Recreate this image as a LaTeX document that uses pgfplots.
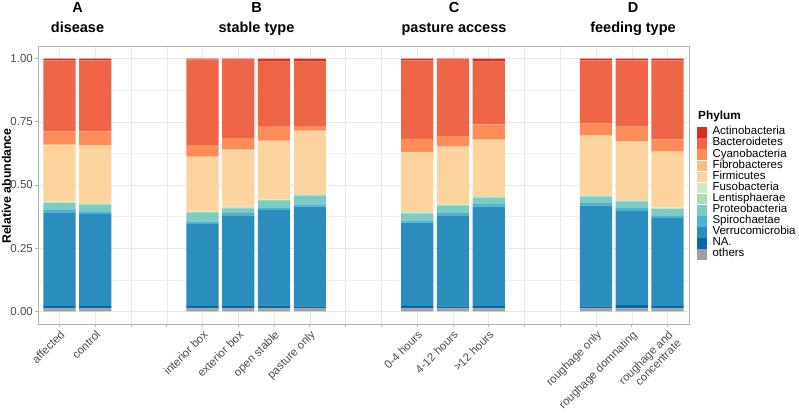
\documentclass[border=0pt]{standalone}
\usepackage{pgfplots}
\pgfplotsset{compat=1.18}
\usepackage{pgfplotstable}
\usepackage{fontspec}
\setmainfont{Liberation Sans}

\definecolor{cActi}{HTML}{D7301F}
\definecolor{cBact}{HTML}{EF6548}
\definecolor{cCyan}{HTML}{FC8D59}
\definecolor{cFibr}{HTML}{FDBB84}
\definecolor{cFirm}{HTML}{FDD49E}
\definecolor{cFuso}{HTML}{CCEBC5}
\definecolor{cLent}{HTML}{A8DDB5}
\definecolor{cProt}{HTML}{7BCCC4}
\definecolor{cSpir}{HTML}{4EB3D3}
\definecolor{cVerr}{HTML}{2B8CBE}
\definecolor{cNA}{HTML}{0868AC}
\definecolor{cOth}{HTML}{A0A0A0}

\pgfplotstableread{
x  others na    verr  spir  prot  lent  fuso  firm  fibr  cyan  bact  acti
1  0.012  0.010 0.370 0.009 0.027 0.003 0.003 0.223 0.003 0.052 0.281 0.007
2  0.012  0.010 0.363 0.009 0.028 0.003 0.003 0.226 0.003 0.055 0.281 0.007
5  0.012  0.010 0.326 0.007 0.035 0.003 0.003 0.213 0.003 0.046 0.339 0.003
6  0.012  0.010 0.358 0.009 0.019 0.003 0.003 0.223 0.003 0.045 0.311 0.004
7  0.012  0.012 0.378 0.009 0.026 0.003 0.003 0.229 0.004 0.057 0.258 0.009
8  0.012  0.008 0.394 0.009 0.035 0.003 0.003 0.247 0.004 0.018 0.255 0.012
11 0.012  0.010 0.329 0.009 0.028 0.003 0.003 0.234 0.003 0.052 0.310 0.007
12 0.012  0.008 0.360 0.009 0.028 0.003 0.003 0.227 0.003 0.040 0.305 0.002
13 0.012  0.010 0.392 0.010 0.026 0.003 0.003 0.221 0.003 0.060 0.248 0.012
16 0.012  0.008 0.398 0.010 0.026 0.003 0.003 0.234 0.003 0.047 0.249 0.007
17 0.012  0.013 0.373 0.013 0.024 0.003 0.003 0.229 0.003 0.058 0.262 0.007
18 0.012  0.010 0.347 0.009 0.027 0.003 0.003 0.220 0.003 0.047 0.312 0.007
}\data

\pgfplotsset{
  sqleg/.style={legend image code/.code={%
    \fill[##1,draw=none] (0pt,-5.3pt) rectangle (9.5pt,5.3pt);
    \path (0pt,0pt) -- (15.5pt,0pt);}},
}

\begin{document}
\begin{tikzpicture}
\useasboundingbox (0,0) rectangle (799pt,-412pt);
\begin{axis}[
  at={(38pt,-324pt)}, anchor=south west,
  scale only axis, width=651pt, height=278pt,
  xmin=0.4, xmax=18.6, ymin=-0.05, ymax=1.05,
  enlargelimits=false,
  ybar stacked, bar width=0.9,
  xtick={1,...,18},
  xticklabels={affected,control,,,interior box,exterior box,open stable,pasture only,,,0-4 hours,4-12 hours,>12 hours,,,roughage only,roughage domnating,{roughage and\\concentrate}},
  ytick={0,0.25,0.5,0.75,1},
  minor ytick={0.125,0.375,0.625,0.875},
  minor tick length=0pt,
  major tick length=3pt,
  tick align=outside,
  xtick pos=left, ytick pos=left,
  tick style={color=black!30, line width=0.8pt},
  grid=both,
  major grid style={color=black!9, line width=0.5pt},
  minor grid style={color=black!6, line width=0.35pt},
  axis line style={color=black!30, line width=1pt},
  /pgf/number format/assume math mode=true,
  y tick label style={/pgf/number format/fixed, /pgf/number format/fixed zerofill, /pgf/number format/precision=2, /tikz/font=\fontsize{11.5}{13}\selectfont, /tikz/text=black!70, /tikz/inner sep=2pt},
  x tick label style={rotate=45, anchor=north east, align=right, font=\fontsize{11.4}{12}\selectfont, text=black!70, inner sep=1.8pt},
  ylabel={Relative abundance},
  every axis y label/.style={at={(axis description cs:-0.0484,0.496)}, rotate=90, anchor=center, font=\fontsize{12.3}{14}\selectfont\bfseries},
  legend style={at={(axis description cs:1.0123,0.7086)}, anchor=north west, draw=none, fill=none, inner sep=0pt, outer sep=0pt, row sep=0pt, column sep=0pt, font=\fontsize{11.5}{11}\selectfont, nodes={inner sep=0pt, text height=7.8pt, text depth=3.3pt}},
  legend cell align=left,
  reverse legend,
  clip=false,
]
\addplot[fill=cOth, draw=none, sqleg] table[x=x,y=others]{\data};
\addlegendentry{others}
\addplot[fill=cNA, draw=none, sqleg] table[x=x,y=na]{\data};
\addlegendentry{NA.}
\addplot[fill=cVerr, draw=none, sqleg] table[x=x,y=verr]{\data};
\addlegendentry{Verrucomicrobia}
\addplot[fill=cSpir, draw=none, sqleg] table[x=x,y=spir]{\data};
\addlegendentry{Spirochaetae}
\addplot[fill=cProt, draw=none, sqleg] table[x=x,y=prot]{\data};
\addlegendentry{Proteobacteria}
\addplot[fill=cLent, draw=none, sqleg] table[x=x,y=lent]{\data};
\addlegendentry{Lentisphaerae}
\addplot[fill=cFuso, draw=none, sqleg] table[x=x,y=fuso]{\data};
\addlegendentry{Fusobacteria}
\addplot[fill=cFirm, draw=none, sqleg] table[x=x,y=firm]{\data};
\addlegendentry{Firmicutes}
\addplot[fill=cFibr, draw=none, sqleg] table[x=x,y=fibr]{\data};
\addlegendentry{Fibrobacteres}
\addplot[fill=cCyan, draw=none, sqleg] table[x=x,y=cyan]{\data};
\addlegendentry{Cyanobacteria}
\addplot[fill=cBact, draw=none, sqleg] table[x=x,y=bact]{\data};
\addlegendentry{Bacteroidetes}
\addplot[fill=cActi, draw=none, sqleg] table[x=x,y=acti]{\data};
\addlegendentry{Actinobacteria}
\end{axis}
\node[anchor=west, font=\fontsize{11.8}{13}\selectfont\bfseries, inner sep=0pt] at (698pt,-116pt) {Phylum};
\begin{scope}[font=\fontsize{14.5}{16}\selectfont\bfseries]
\node[anchor=base] at (77.5pt,-12.7pt) {A};
\node[anchor=base] at (77.5pt,-33pt) {disease};
\node[anchor=base] at (256.5pt,-12.7pt) {B};
\node[anchor=base] at (256.5pt,-33pt) {stable type};
\node[anchor=base] at (454pt,-12.7pt) {C};
\node[anchor=base] at (454pt,-33pt) {pasture access};
\node[anchor=base] at (633pt,-12.7pt) {D};
\node[anchor=base] at (633pt,-33pt) {feeding type};
\end{scope}
\end{tikzpicture}
\end{document}
